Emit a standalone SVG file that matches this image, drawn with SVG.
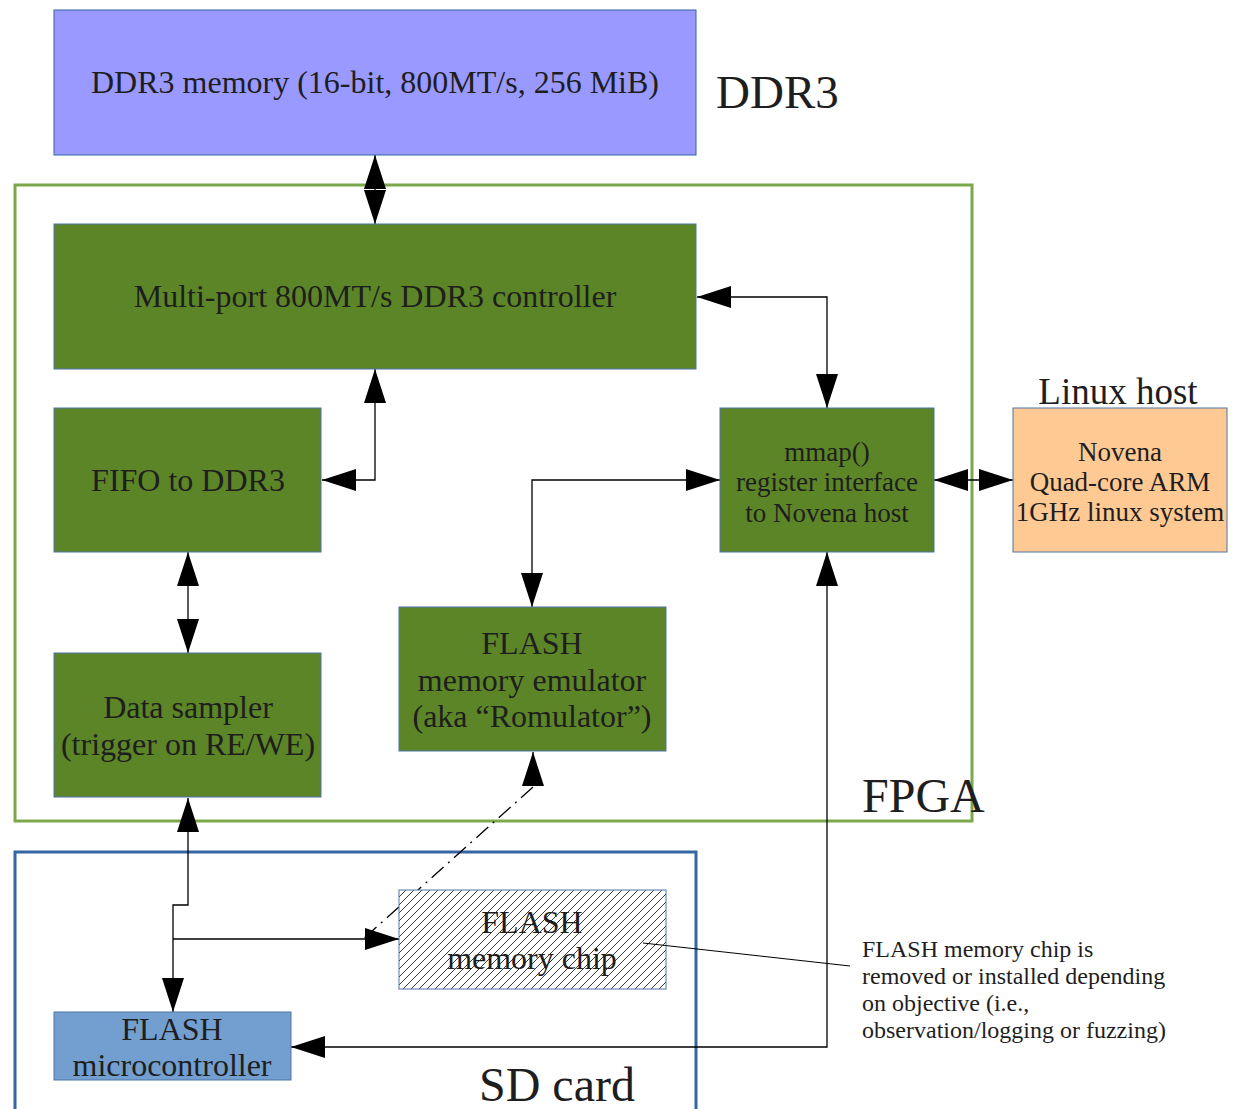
<svg xmlns="http://www.w3.org/2000/svg" width="1236" height="1109" viewBox="0 0 1236 1109">
<style>
text{font-family:"Liberation Serif","Times New Roman",serif;fill:#1e1e1e;}
.t32{font-size:32px;text-anchor:middle;}
.t27{font-size:27px;text-anchor:middle;}
.note{font-size:24px;}
.big{font-size:48px;}
.green{fill:#5b8527;stroke:#4f74a8;stroke-width:1;}
.conn{fill:none;stroke:#000;stroke-width:1.3;}
</style>
<defs>
<marker id="ah" markerUnits="userSpaceOnUse" markerWidth="34" markerHeight="22" refX="34" refY="11" orient="auto-start-reverse" viewBox="0 0 34 22">
<path d="M0,0 L34,11 L0,22 z" fill="#000"/>
</marker>
<pattern id="hatch" patternUnits="userSpaceOnUse" width="8" height="8">
<path d="M-2,2 L2,-2 M0,8 L8,0 M6,10 L10,6" stroke="#222" stroke-width="0.9"/>
</pattern>
</defs>
<rect width="1236" height="1109" fill="#fff"/>

<g id="fpga">
<rect x="15" y="185" width="957" height="636" fill="none" stroke="#7ba84a" stroke-width="3"/>
<text class="big" x="862" y="812">FPGA</text>
</g>
<g id="sdcard">
<path d="M15,1112 V852 H696 V1112" fill="none" stroke="#3465a4" stroke-width="3"/>
<text class="big" x="479" y="1101">SD card</text>
</g>

<g id="connectors">
<path class="conn" d="M375,155 V224" marker-start="url(#ah)" marker-end="url(#ah)"/>
<path class="conn" d="M697,297 H827 V408" marker-start="url(#ah)" marker-end="url(#ah)"/>
<path class="conn" d="M322,480 H375 V369" marker-start="url(#ah)" marker-end="url(#ah)"/>
<path class="conn" d="M188,552 V653" marker-start="url(#ah)" marker-end="url(#ah)"/>
<path class="conn" d="M934,480 H1013" marker-start="url(#ah)" marker-end="url(#ah)"/>
<path class="conn" d="M720,480 H532 V607" marker-start="url(#ah)" marker-end="url(#ah)"/>
<path class="conn" d="M533,752 V786" marker-start="url(#ah)" stroke="none"/>
<path class="conn" d="M533,787 L362,940" stroke-width="1" stroke-dasharray="16 6 2 6"/>
<path class="conn" d="M188,798 V905 H173 V1012" marker-start="url(#ah)" marker-end="url(#ah)"/>
<path class="conn" d="M173,939 H399" marker-end="url(#ah)"/>
<path class="conn" d="M827,552 V1047 H291" marker-start="url(#ah)" marker-end="url(#ah)"/>
</g>

<g id="ddr3">
<rect x="54" y="10" width="642" height="145" fill="#9999ff" stroke="#3465a4" stroke-width="1"/>
<text class="t32" x="375" y="93">DDR3 memory (16-bit, 800MT/s, 256 MiB)</text>
<text x="716" y="108" font-size="47">DDR3</text>
</g>
<g id="ddr3-controller">
<rect class="green" x="54" y="224" width="642" height="145"/>
<text class="t32" x="375" y="307">Multi-port 800MT/s DDR3 controller</text>
</g>
<g id="fifo">
<rect class="green" x="54" y="408" width="267" height="144"/>
<text class="t32" x="188" y="491">FIFO to DDR3</text>
</g>
<g id="mmap">
<rect class="green" x="720" y="408" width="214" height="144"/>
<text class="t27" x="827" y="461">mmap()</text>
<text class="t27" x="827" y="491">register interface</text>
<text class="t27" x="827" y="522">to Novena host</text>
</g>
<g id="linux-host">
<rect x="1013" y="408" width="214" height="144" fill="#ffc993" stroke="#4f74a8" stroke-width="1"/>
<text class="t27" x="1120" y="461">Novena</text>
<text class="t27" x="1120" y="491">Quad-core ARM</text>
<text class="t27" x="1120" y="521">1GHz linux system</text>
<text x="1118" y="404" font-size="37" text-anchor="middle">Linux host</text>
</g>
<g id="data-sampler">
<rect class="green" x="54" y="653" width="267" height="144"/>
<text class="t32" x="188" y="718">Data sampler</text>
<text class="t32" x="188" y="755">(trigger on RE/WE)</text>
</g>
<g id="flash-emulator">
<rect class="green" x="399" y="607" width="267" height="144"/>
<text class="t32" x="532" y="654">FLASH</text>
<text class="t32" x="532" y="691">memory emulator</text>
<text class="t32" x="532" y="727">(aka “Romulator”)</text>
</g>
<g id="flash-chip">
<rect x="399" y="890" width="267" height="99" fill="#fff"/>
<rect x="399" y="890" width="267" height="99" fill="url(#hatch)" stroke="#4f74a8" stroke-width="1"/>
<text class="t32" x="532" y="933">FLASH</text>
<text class="t32" x="532" y="969">memory chip</text>
</g>
<g id="flash-mcu">
<rect x="54" y="1012" width="237" height="68" fill="#729fcf" stroke="#4f74a8" stroke-width="1"/>
<text class="t32" x="172" y="1040">FLASH</text>
<text class="t32" x="172" y="1076">microcontroller</text>
</g>
<g id="note">
<path d="M643,943 L850,966" fill="none" stroke="#000" stroke-width="1"/>
<text class="note" x="862" y="957">FLASH memory chip is</text>
<text class="note" x="862" y="984">removed or installed depending</text>
<text class="note" x="862" y="1011">on objective (i.e.,</text>
<text class="note" x="862" y="1038">observation/logging or fuzzing)</text>
</g>
</svg>
